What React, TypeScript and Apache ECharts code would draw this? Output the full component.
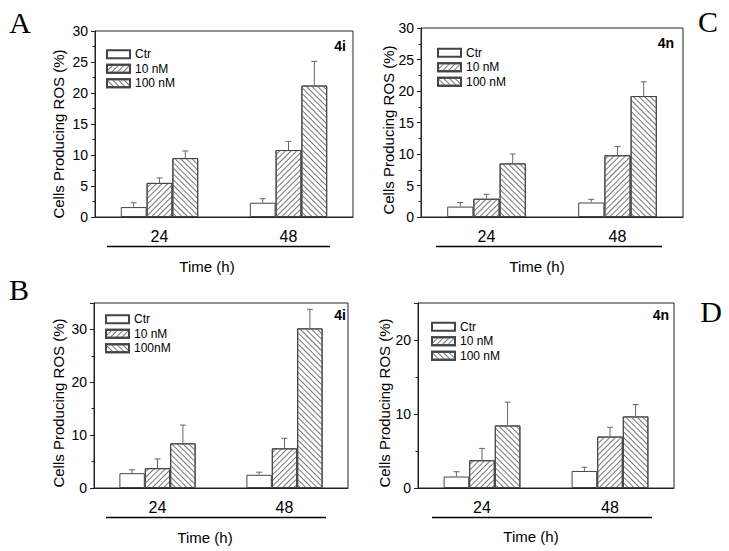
import React, { useEffect, useRef } from "react";
import * as echarts from "echarts";

const times = ["24", "48"];
const legendNames4i = ["Ctr", "10 nM", "100 nM"];
const legendNamesB = ["Ctr", "10 nM", "100nM"];

// Panel A (4i, top left)
const aCtr = [1.6, 2.3];
const aCtrErr = [0.7, 0.65];
const a10 = [5.5, 10.8];
const a10Err = [0.8, 1.4];
const a100 = [9.5, 21.2];
const a100Err = [1.15, 3.9];

// Panel C (4n, top right)
const cCtr = [1.65, 2.3];
const cCtrErr = [0.65, 0.5];
const c10 = [2.9, 9.8];
const c10Err = [0.7, 1.4];
const c100 = [8.5, 19.2];
const c100Err = [1.5, 2.25];

// Panel B (4i, bottom left)
const bCtr = [2.8, 2.5];
const bCtrErr = [0.65, 0.5];
const b10 = [3.75, 7.5];
const b10Err = [1.75, 1.9];
const b100 = [8.45, 30.2];
const b100Err = [3.45, 3.6];

// Panel D (4n, bottom right)
const dCtr = [1.55, 2.3];
const dCtrErr = [0.65, 0.5];
const d10 = [3.75, 6.95];
const d10Err = [1.6, 1.25];
const d100 = [8.45, 9.67];
const d100Err = [3.15, 1.6];

const panels = [
  { letter: "A", tag: "4i", names: legendNames4i, vals: [aCtr, a10, a100], errs: [aCtrErr, a10Err, a100Err], max: 30, interval: 5,
    grid: { left: 95, top: 31, width: 258, height: 186 }, legend: { left: 101, top: 43 },
    tagPos: [340, 46], letterPos: [20, 22], ytitle: [58, 134], time: [207, 266], line: [107, 330, 246.5] },
  { letter: "C", tag: "4n", names: legendNames4i, vals: [cCtr, c10, c100], errs: [cCtrErr, c10Err, c100Err], max: 30, interval: 5,
    grid: { left: 421, top: 28, width: 262, height: 189 }, legend: { left: 432, top: 41.5 },
    tagPos: [666, 43], letterPos: [708, 21], ytitle: [388, 130], time: [537, 266], line: [436, 662, 246.5] },
  { letter: "B", tag: "4i", names: legendNamesB, vals: [bCtr, b10, b100], errs: [bCtrErr, b10Err, b100Err], max: 35, interval: 10,
    grid: { left: 94, top: 303, width: 254, height: 185 }, legend: { left: 100, top: 308 },
    tagPos: [340, 315], letterPos: [19, 289], ytitle: [58, 403], time: [205, 537], line: [106, 326, 517.5] },
  { letter: "D", tag: "4n", names: legendNames4i, vals: [dCtr, d10, d100], errs: [dCtrErr, d10Err, d100Err], max: 25, interval: 10,
    grid: { left: 418, top: 303, width: 256, height: 185 }, legend: { left: 426, top: 315.5 },
    tagPos: [661, 315], letterPos: [711, 311], ytitle: [384, 403], time: [531, 536], line: [432, 652, 517.5] },
];

const FONT = "Liberation Sans, Arial, sans-serif";
const SERIF = "Liberation Serif, Times New Roman, serif";
const EDGE = "#444";

const decals = [
  null,
  { symbol: "rect", symbolSize: 1, dashArrayX: [1, 0], dashArrayY: [0.8, 2.7], rotation: -Math.PI / 4, color: "#777", backgroundColor: "#fff" },
  { symbol: "rect", symbolSize: 1, dashArrayX: [1, 0], dashArrayY: [0.8, 2.7], rotation: Math.PI / 4, color: "#777", backgroundColor: "#fff" },
];

export default function App() {
  const ref = useRef<HTMLDivElement>(null);
  useEffect(() => {
    if (!ref.current) return;
    const chart = echarts.init(ref.current, undefined, { renderer: "svg" });
    const grids: any[] = [];
    const xAxes: any[] = [];
    const yAxes: any[] = [];
    const legends: any[] = [];
    const series: any[] = [];
    const graphics: any[] = [];

    panels.forEach((p, i) => {
      grids.push({ ...p.grid, show: true, borderColor: "#222", borderWidth: 1, backgroundColor: "transparent" });
      xAxes.push({
        type: "category", gridIndex: i, data: times,
        axisLine: { show: true, lineStyle: { color: "#222", width: 1 } },
        axisTick: { show: false },
        axisLabel: { color: "#000", fontSize: 16, fontFamily: FONT, margin: 11 },
        splitLine: { show: false },
      });
      yAxes.push({
        type: "value", gridIndex: i, min: 0, max: p.max, interval: p.interval,
        axisLine: { show: true, lineStyle: { color: "#222", width: 1 } },
        axisTick: { show: true, inside: false, length: 4, lineStyle: { color: "#222" } },
        minorTick: { show: true, splitNumber: 2, length: 2.5, lineStyle: { color: "#222" } },
        axisLabel: { color: "#000", fontSize: 14, fontFamily: FONT, margin: 7, showMaxLabel: p.max % p.interval === 0 },
        splitLine: { show: false },
        minorSplitLine: { show: false },
      });
      legends.push({
        data: p.names, orient: "vertical", left: p.legend.left, top: p.legend.top,
        itemWidth: 23, itemHeight: 8, itemGap: 2, icon: "rect",
        textStyle: { fontSize: 12, fontFamily: FONT, color: "#000", lineHeight: 12.5 },
        selectedMode: false,
      });
      p.names.forEach((name, k) => {
        const itemStyle: any = { color: "#fff", borderColor: EDGE, borderWidth: 1 };
        if (decals[k]) itemStyle.decal = decals[k];
        series.push({
          type: "bar", name, xAxisIndex: i, yAxisIndex: i, data: p.vals[k],
          barWidth: "20%", barGap: "0%", itemStyle, emphasis: { disabled: true },
        });
      });
      const errData: number[][] = [];
      p.vals.forEach((arr, k) => arr.forEach((v, c) => errData.push([c, v, p.errs[k][c], k])));
      series.push({
        type: "custom", xAxisIndex: i, yAxisIndex: i, data: errData, z: 3,
        encode: { x: 0, y: 1 },
        renderItem: (params: any, api: any) => {
          const c = api.value(0), v = api.value(1), e = api.value(2), k = api.value(3);
          const base = api.coord([c, v]);
          const top = api.coord([c, v + e]);
          const bw = api.size([1, 0])[0] * 0.2;
          const x = base[0] + (k - 1) * bw;
          const st = { stroke: "#666", lineWidth: 1 };
          return {
            type: "group",
            children: [
              { type: "line", shape: { x1: x, y1: base[1], x2: x, y2: top[1] }, style: st },
              { type: "line", shape: { x1: x - 3, y1: top[1], x2: x + 3, y2: top[1] }, style: st },
            ],
          };
        },
      });
      graphics.push(
        { type: "text", x: p.letterPos[0], y: p.letterPos[1], style: { text: p.letter, font: `30px ${SERIF}`, fill: "#000", align: "center", verticalAlign: "middle" } },
        { type: "text", x: p.tagPos[0], y: p.tagPos[1], style: { text: p.tag, font: `bold 14px ${FONT}`, fill: "#000", align: "center", verticalAlign: "middle" } },
        { type: "text", x: p.ytitle[0], y: p.ytitle[1], rotation: Math.PI / 2, style: { text: "Cells Producing ROS (%)", font: `15px ${FONT}`, fill: "#000", align: "center", verticalAlign: "middle" } },
        { type: "text", x: p.time[0], y: p.time[1], style: { text: "Time (h)", font: `15px ${FONT}`, fill: "#000", align: "center", verticalAlign: "middle" } },
        { type: "line", shape: { x1: p.line[0], y1: p.line[2], x2: p.line[1], y2: p.line[2] }, style: { stroke: "#000", lineWidth: 1.3 } },
      );
    });

    chart.setOption({
      animation: false,
      backgroundColor: "#fff",
      grid: grids,
      xAxis: xAxes,
      yAxis: yAxes,
      legend: legends,
      series,
      graphic: graphics,
    });
    return () => chart.dispose();
  }, []);
  return <div ref={ref} style={{ position: "fixed", left: 0, top: 0, width: 729, height: 551 }} />;
}
